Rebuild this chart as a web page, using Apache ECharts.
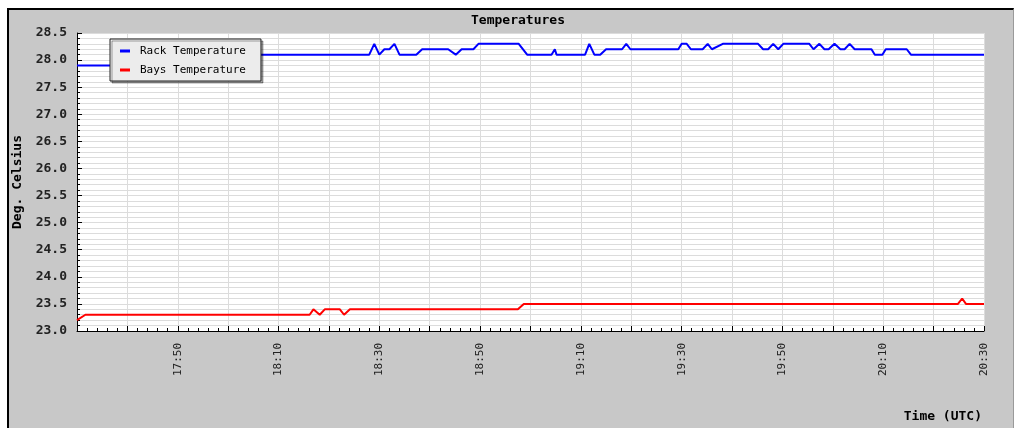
<!DOCTYPE html>
<html>
<head>
<meta charset="utf-8">
<title>Temperatures</title>
<script src="https://cdn.jsdelivr.net/npm/echarts@6/dist/echarts.min.js"></script>
<style>
  html, body { margin: 0; padding: 0; background: #ffffff; }
  #frame {
    position: absolute; left: 7px; top: 8px; width: 1007px; height: 420px;
    box-sizing: border-box; background: #c8c8c8;
    border-top: 2px solid #000; border-left: 2px solid #000; border-right: 1px solid #9a9a9a;
  }
  #chart { position: absolute; left: 0; top: 0; width: 1015px; height: 428px; }
</style>
</head>
<body>
<div id="frame"></div>
<div id="chart"></div>
<script>
// Sensor readings (UTC time of day, degrees Celsius)
const rackTimes = [
  '17:30:00', '17:44:00', '17:46:00', '18:28:00', '18:29:00', '18:30:00', '18:31:00',
  '18:32:00', '18:33:00', '18:34:00', '18:37:20', '18:38:30', '18:43:40', '18:45:10',
  '18:46:20', '18:48:40', '18:49:40', '18:57:40', '18:59:20', '19:04:10', '19:04:50',
  '19:05:10', '19:10:50', '19:11:40', '19:12:40', '19:13:50', '19:15:00', '19:18:10',
  '19:19:00', '19:19:50', '19:29:20', '19:30:00', '19:31:00', '19:31:50', '19:34:10',
  '19:35:10', '19:36:00', '19:38:10', '19:45:10', '19:46:10', '19:47:10', '19:48:10',
  '19:49:10', '19:50:10', '19:55:20', '19:56:10', '19:57:20', '19:58:20', '19:59:10',
  '20:00:20', '20:01:30', '20:02:20', '20:03:20', '20:04:20', '20:07:40', '20:08:20',
  '20:09:50', '20:10:30', '20:14:40', '20:15:30', '20:30:00'
];
const rackTemps = [
  27.9, 27.9, 28.1, 28.1, 28.3, 28.1, 28.2,
  28.2, 28.3, 28.1, 28.1, 28.2, 28.2, 28.1,
  28.2, 28.2, 28.3, 28.3, 28.1, 28.1, 28.2,
  28.1, 28.1, 28.3, 28.1, 28.1, 28.2, 28.2,
  28.3, 28.2, 28.2, 28.3, 28.3, 28.2, 28.2,
  28.3, 28.2, 28.3, 28.3, 28.2, 28.2, 28.3,
  28.2, 28.3, 28.3, 28.2, 28.3, 28.2, 28.2,
  28.3, 28.2, 28.2, 28.3, 28.2, 28.2, 28.1,
  28.1, 28.2, 28.2, 28.1, 28.1
];
const baysTimes = [
  '17:30:00', '17:31:40', '18:16:10', '18:16:55', '18:18:10', '18:19:10', '18:22:10',
  '18:23:00', '18:24:10', '18:57:30', '18:58:40', '20:24:50', '20:25:40', '20:26:25',
  '20:30:00'
];
const baysTemps = [
  23.2, 23.3, 23.3, 23.4, 23.3, 23.4, 23.4,
  23.3, 23.4, 23.4, 23.5, 23.5, 23.6, 23.5,
  23.5
];

// Axis settings
const timeStart = '17:30:00';
const timeEnd = '20:30:00';
const timeLabels = ['17:50', '18:10', '18:30', '18:50', '19:10', '19:30', '19:50', '20:10', '20:30'];
const tempMin = 23.0;
const tempMax = 28.5;
const tempStep = 0.5;

function toMs(hms) {
  const p = hms.split(':').map(Number);
  return Date.UTC(2024, 0, 1, p[0], p[1], p[2] || 0);
}
function pad(n) { return (n < 10 ? '0' : '') + n; }
function pairs(times, vals) { return times.map((t, i) => [toMs(t), vals[i]]); }

const MONO = '"DejaVu Sans Mono", "Liberation Mono", monospace';
const GRID = '#dcdcdc';

const chart = echarts.init(document.getElementById('chart'), null, { renderer: 'canvas' });
chart.setOption({
  animation: false,
  backgroundColor: 'transparent',
  title: {
    text: 'Temperatures',
    left: 518, top: 14, textAlign: 'center', padding: 0,
    textStyle: { fontFamily: MONO, fontSize: 13, fontWeight: 'bold', color: '#000' }
  },
  legend: {
    orient: 'vertical', left: 110, top: 39,
    padding: [5, 15, 4, 10], itemGap: 5,
    itemWidth: 10, itemHeight: 3, icon: 'rect',
    backgroundColor: '#ececec', borderColor: '#222', borderWidth: 1,
    shadowColor: 'rgba(0,0,0,0.35)', shadowOffsetX: 2, shadowOffsetY: 2, shadowBlur: 0,
    textStyle: { fontFamily: MONO, fontSize: 11, color: '#000', lineHeight: 14, padding: [0, 0, 0, 5] },
    data: ['Rack Temperature', 'Bays Temperature']
  },
  grid: {
    left: 77, top: 33, right: 31, bottom: 97,
    show: true, backgroundColor: '#ffffff', borderWidth: 0
  },
  xAxis: {
    type: 'value',
    min: toMs(timeStart), max: toMs(timeEnd), interval: 10 * 60 * 1000,
    axisLine: { lineStyle: { color: '#000', width: 1 } },
    axisTick: { inside: true, length: 5, lineStyle: { color: '#000' } },
    minorTick: { show: true, splitNumber: 5, length: 3, lineStyle: { color: '#000' } },
    splitLine: { show: true, lineStyle: { color: GRID, width: 1 } },
    axisLabel: {
      rotate: 90, margin: 12, fontFamily: MONO, fontSize: 11, color: '#222',
      showMinLabel: true, showMaxLabel: true,
      formatter: function (v) {
        const d = new Date(v);
        const s = pad(d.getUTCHours()) + ':' + pad(d.getUTCMinutes());
        return timeLabels.indexOf(s) >= 0 ? s : '';
      }
    }
  },
  yAxis: {
    type: 'value',
    min: tempMin, max: tempMax, interval: tempStep,
    name: 'Deg. Celsius', nameLocation: 'middle', nameGap: 53,
    nameTextStyle: { fontFamily: MONO, fontSize: 13, fontWeight: 'bold', color: '#000' },
    axisLine: { show: true, lineStyle: { color: '#000', width: 1 } },
    axisTick: { show: true, inside: true, length: 5, lineStyle: { color: '#000' } },
    minorTick: { show: true, splitNumber: 5, length: 3, lineStyle: { color: '#000' } },
    splitLine: { show: true, lineStyle: { color: GRID, width: 1 } },
    minorSplitLine: { show: true, lineStyle: { color: GRID, width: 1 } },
    axisLabel: {
      margin: 10, fontFamily: MONO, fontSize: 13, fontWeight: 'bold', color: '#222',
      formatter: function (v) { return v.toFixed(1); }
    }
  },
  graphic: [{
    type: 'text', right: 33, top: 410,
    style: { text: 'Time (UTC)', font: 'bold 13px ' + MONO, fill: '#000' }
  }],
  series: [
    {
      name: 'Rack Temperature', type: 'line', showSymbol: false, symbol: 'none',
      color: '#0000ff', lineStyle: { width: 2, color: '#0000ff' },
      data: pairs(rackTimes, rackTemps)
    },
    {
      name: 'Bays Temperature', type: 'line', showSymbol: false, symbol: 'none',
      color: '#ff0000', lineStyle: { width: 2, color: '#ff0000' },
      data: pairs(baysTimes, baysTemps)
    }
  ]
});
</script>
</body>
</html>
